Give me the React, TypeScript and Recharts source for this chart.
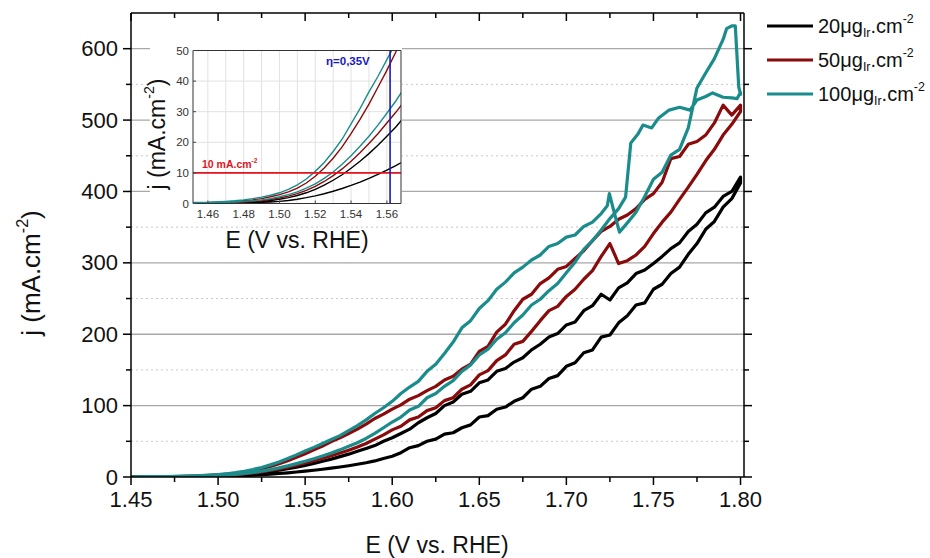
import React from 'react';
import { LineChart, Line, XAxis, YAxis, ReferenceLine, CartesianGrid } from 'recharts';

const FONT = '"Liberation Sans", Arial, Helvetica, sans-serif';

// ---- Data: potential E (V vs RHE), current density j (mA/cm2) ----
// upper (anodic) branch, increasing E
const ir20Up: [number, number][] = [
  [1.45,0.1],[1.46,0.1],[1.47,0.2],[1.475,0.3],[1.48,0.4],[1.485,0.5],[1.49,0.7],[1.495,1.0],[1.50,1.4],[1.505,1.9],[1.51,2.6],[1.515,3.5],[1.52,4.6],[1.525,6.0],[1.53,7.6],[1.535,9.4],[1.54,11.5],[1.545,13.8],[1.55,16.3],[1.555,19],[1.56,22],[1.565,25],[1.57,28.5],[1.575,32],[1.58,36],[1.585,40],[1.59,44],[1.595,50],[1.60,55],[1.605,61],[1.61,67],[1.615,76],[1.62,83],[1.625,89],[1.63,100],[1.635,105],[1.64,116],[1.645,120],[1.65,132],[1.655,136],[1.66,148],[1.665,152],[1.67,161],[1.675,167],[1.68,178],[1.685,186],[1.69,196],[1.695,201],[1.70,213],[1.705,217],[1.71,233],[1.715,240],[1.72,256],[1.725,248],[1.73,265],[1.735,272],[1.74,285],[1.745,290],[1.75,299],[1.755,309],[1.76,320],[1.765,328],[1.77,344],[1.775,354],[1.78,370],[1.785,378],[1.79,393],[1.795,400],[1.80,420],
];
// lower branch, listed with increasing E (drawn back from 1.80)
const ir20Down: [number, number][] = [
  [1.45,0],[1.46,0.1],[1.47,0.1],[1.475,0.1],[1.48,0.2],[1.485,0.3],[1.49,0.4],[1.495,0.5],[1.50,0.7],[1.505,1.0],[1.51,1.4],[1.515,1.9],[1.52,2.5],[1.525,3.2],[1.53,4.0],[1.535,4.9],[1.54,5.9],[1.545,7.0],[1.55,8.2],[1.555,9.5],[1.56,10.9],[1.565,12.4],[1.57,14],[1.575,15.8],[1.58,17.8],[1.585,20],[1.59,22.5],[1.595,26],[1.60,29],[1.605,34],[1.61,41],[1.615,44],[1.62,50],[1.625,53],[1.63,60],[1.635,62],[1.64,69],[1.645,73],[1.65,84],[1.655,86],[1.66,95],[1.665,98],[1.67,106],[1.675,111],[1.68,123],[1.685,127],[1.69,138],[1.695,142],[1.70,155],[1.705,160],[1.71,174],[1.715,178],[1.72,196],[1.725,199],[1.73,216],[1.735,226],[1.74,241],[1.745,244],[1.75,263],[1.755,270],[1.76,285],[1.765,294],[1.77,312],[1.775,327],[1.78,347],[1.785,358],[1.79,378],[1.795,390],[1.80,412],
];
const ir50Up: [number, number][] = [
  [1.45,0.2],[1.46,0.3],[1.47,0.5],[1.475,0.7],[1.48,0.9],[1.485,1.2],[1.49,1.6],[1.495,2.2],[1.50,2.9],[1.505,3.8],[1.51,5.0],[1.515,6.7],[1.52,8.9],[1.525,11.6],[1.53,14.8],[1.535,18.5],[1.54,22.8],[1.545,27.5],[1.55,32.5],[1.555,38],[1.56,43.5],[1.565,49.5],[1.57,55],[1.575,61],[1.58,67],[1.585,74],[1.59,82],[1.595,88],[1.60,95],[1.605,101],[1.61,109],[1.615,114],[1.62,121],[1.625,127],[1.63,136],[1.635,141],[1.64,151],[1.645,158],[1.65,176],[1.655,183],[1.66,203],[1.665,214],[1.67,233],[1.675,249],[1.68,256],[1.685,271],[1.69,279],[1.695,291],[1.70,295],[1.705,306],[1.71,317],[1.715,331],[1.72,344],[1.725,351],[1.73,361],[1.735,367],[1.74,376],[1.745,389],[1.75,397],[1.755,413],[1.76,446],[1.765,449],[1.77,466],[1.775,470],[1.78,479],[1.785,496],[1.79,521],[1.795,507],[1.80,521],
];
const ir50Down: [number, number][] = [
  [1.45,0.1],[1.46,0.2],[1.47,0.3],[1.475,0.4],[1.48,0.5],[1.485,0.7],[1.49,0.9],[1.495,1.3],[1.50,1.8],[1.505,2.4],[1.51,3.2],[1.515,4.3],[1.52,5.6],[1.525,7.2],[1.53,9.1],[1.535,11.3],[1.54,13.8],[1.545,16.6],[1.55,19.6],[1.555,22.8],[1.56,26.3],[1.565,29.8],[1.57,33.5],[1.575,37.5],[1.58,42],[1.585,47],[1.59,53],[1.595,59],[1.60,66],[1.605,71],[1.61,80],[1.615,84],[1.62,93],[1.625,97],[1.63,107],[1.635,111],[1.64,123],[1.645,129],[1.65,143],[1.655,149],[1.66,163],[1.665,171],[1.67,186],[1.675,190],[1.68,204],[1.685,219],[1.69,233],[1.695,239],[1.70,253],[1.705,263],[1.71,277],[1.715,289],[1.72,309],[1.725,327],[1.73,299],[1.735,303],[1.74,311],[1.745,323],[1.75,341],[1.755,357],[1.76,371],[1.765,389],[1.77,406],[1.775,424],[1.78,443],[1.785,459],[1.79,479],[1.795,494],[1.80,512],
];
const ir100Up: [number, number][] = [
  [1.45,0.3],[1.46,0.4],[1.47,0.7],[1.475,0.9],[1.48,1.2],[1.485,1.6],[1.49,2.1],[1.495,2.7],[1.50,3.5],[1.505,4.6],[1.51,6.1],[1.515,8.0],[1.52,10.5],[1.525,13.4],[1.53,17.0],[1.535,21],[1.54,26],[1.545,31],[1.55,36.5],[1.555,41.5],[1.56,47],[1.565,52.5],[1.57,58],[1.575,65],[1.58,72],[1.585,80],[1.59,89],[1.595,97],[1.60,106],[1.605,117],[1.61,126],[1.615,134],[1.62,148],[1.625,158],[1.63,173],[1.635,189],[1.64,209],[1.645,219],[1.65,236],[1.655,247],[1.66,263],[1.665,273],[1.67,286],[1.675,294],[1.68,304],[1.685,311],[1.69,323],[1.695,327],[1.70,336],[1.705,339],[1.71,351],[1.715,357],[1.72,369],[1.7235,380],[1.7247,397],[1.727,375],[1.7305,343],[1.735,356],[1.74,371],[1.745,393],[1.75,417],[1.755,427],[1.76,451],[1.765,459],[1.77,489],[1.775,545],[1.78,566],[1.785,586],[1.79,613],[1.792,628],[1.795,632],[1.797,632],[1.799,546],[1.80,536],
];
const ir100Down: [number, number][] = [
  [1.45,0.2],[1.46,0.3],[1.47,0.4],[1.475,0.5],[1.48,0.7],[1.485,0.9],[1.49,1.2],[1.495,1.6],[1.50,2.2],[1.505,2.9],[1.51,3.8],[1.515,5.0],[1.52,6.4],[1.525,8.2],[1.53,10.3],[1.535,12.8],[1.54,15.6],[1.545,18.7],[1.55,22],[1.555,25.6],[1.56,29.5],[1.565,33.5],[1.57,38],[1.575,43],[1.58,48],[1.585,54],[1.59,61],[1.595,69],[1.60,77],[1.605,84],[1.61,94],[1.615,99],[1.62,111],[1.625,117],[1.63,127],[1.635,135],[1.64,148],[1.645,157],[1.65,171],[1.655,179],[1.66,193],[1.665,202],[1.67,216],[1.675,227],[1.68,241],[1.685,249],[1.69,261],[1.695,271],[1.70,286],[1.705,301],[1.71,319],[1.715,331],[1.72,346],[1.725,362],[1.73,376],[1.734,392],[1.737,468],[1.741,480],[1.744,493],[1.749,489],[1.753,503],[1.759,514],[1.765,518],[1.771,514],[1.775,528],[1.78,533],[1.784,538],[1.79,532],[1.795,531],[1.798,530],[1.80,539],
];

const SERIES_LABELS = ['20', '50', '100'];
const SERIES_COLORS = ['#000000', '#8a0b0b', '#1b8c8c'];
const SERIES_UP = [ir20Up, ir50Up, ir100Up];
const SERIES_DOWN = [ir20Down, ir50Down, ir100Down];

const MAIN_X_TICKS = [1.45,1.475,1.5,1.525,1.55,1.575,1.6,1.625,1.65,1.675,1.7,1.725,1.75,1.775,1.8];
const MAIN_Y_TICKS = [0,50,100,150,200,250,300,350,400,450,500,550,600];
const MAIN_Y_MAJOR_GRID = [100,200,300,400,500,600];
const MAIN_Y_MINOR_GRID = [50,150,250,350,450,550];

const INSET_X_TICKS = [1.46,1.48,1.5,1.52,1.54,1.56];
const INSET_X_GRID = [1.46,1.47,1.48,1.49,1.5,1.51,1.52,1.53,1.54,1.55,1.56];
const INSET_Y_TICKS = [0,10,20,30,40,50];
const INSET_Y_GRID = [10,20,30,40];
const INSET_REF_J = 10;
const INSET_REF_E = 1.5618;

const buildLoop = (up: [number, number][], down: [number, number][]) => [
  ...up.map(([E, j]) => ({ E, j })),
  ...[...down].reverse().map(([E, j]) => ({ E, j })),
];
const LOOPS = SERIES_UP.map((u, i) => buildLoop(u, SERIES_DOWN[i]));

const isMajor = (v: number, step: number) => Math.abs(v / step - Math.round(v / step)) < 1e-6;

const BottomTick = (p: any) => {
  const { x, y, payload } = p;
  const major = isMajor(payload.value, 0.05);
  return (
    <g>
      <line x1={x} y1={y} x2={x} y2={y + (major ? 8 : 5)} stroke="#000" strokeWidth={1.5} />
      {major && (
        <text x={x} y={y + 30} textAnchor="middle" fontSize={22} fontFamily={FONT} fill="#111">
          {payload.value.toFixed(2)}
        </text>
      )}
    </g>
  );
};
const TopTick = (p: any) => {
  const { x, y, payload } = p;
  const major = isMajor(payload.value, 0.05);
  return <line x1={x} y1={y} x2={x} y2={y + (major ? 8 : 5)} stroke="#000" strokeWidth={1.5} />;
};
const LeftTick = (p: any) => {
  const { x, y, payload } = p;
  const major = isMajor(payload.value, 100);
  return (
    <g>
      <line x1={x} y1={y} x2={x - (major ? 8 : 5)} y2={y} stroke="#000" strokeWidth={1.5} />
      {major && (
        <text x={x - 13} y={y + 7.5} textAnchor="end" fontSize={22} fontFamily={FONT} fill="#111">
          {payload.value}
        </text>
      )}
    </g>
  );
};
const RightTick = (p: any) => {
  const { x, y, payload } = p;
  const major = isMajor(payload.value, 100);
  return <line x1={x} y1={y} x2={x + (major ? 8 : 5)} y2={y} stroke="#000" strokeWidth={1.5} />;
};

const InsetBottomTick = (p: any) => {
  const { x, y, payload } = p;
  return (
    <g>
      <line x1={x} y1={y} x2={x} y2={y - 3} stroke="#444" strokeWidth={1} />
      <text x={x} y={y + 14} textAnchor="middle" fontSize={11.5} fontFamily={FONT} fill="#333">
        {payload.value.toFixed(2)}
      </text>
    </g>
  );
};
const InsetLeftTick = (p: any) => {
  const { x, y, payload } = p;
  return (
    <g>
      <line x1={x} y1={y} x2={x + 3} y2={y} stroke="#444" strokeWidth={1} />
      <text x={x - 4} y={y + 4} textAnchor="end" fontSize={11.5} fontFamily={FONT} fill="#333">
        {payload.value}
      </text>
    </g>
  );
};

const Sup = ({ children }: { children: React.ReactNode }) => (
  <span style={{ fontSize: '0.62em', position: 'relative', top: '-0.75em' }}>{children}</span>
);
const Sub = ({ children }: { children: React.ReactNode }) => (
  <span style={{ fontSize: '0.62em', position: 'relative', top: '0.35em' }}>{children}</span>
);

export default function App() {
  return (
    <div style={{ position: 'absolute', left: 0, top: 0, width: 930, height: 558, background: '#fff', fontFamily: FONT, overflow: 'hidden' }}>
      {/* Main chart */}
      <div style={{ position: 'absolute', left: 0, top: 0 }}>
        <LineChart width={930} height={558} data={LOOPS[0]} margin={{ top: 8, right: 176, left: 71, bottom: 41 }}>
          {MAIN_Y_MINOR_GRID.map((v) => (
            <ReferenceLine key={'mi' + v} xAxisId="b" yAxisId="l" y={v} stroke="#c8c8c8" strokeWidth={1} strokeDasharray="2 3" />
          ))}
          {MAIN_Y_MAJOR_GRID.map((v) => (
            <ReferenceLine key={'ma' + v} xAxisId="b" yAxisId="l" y={v} stroke="#a8a8a8" strokeWidth={1.3} />
          ))}
          <XAxis xAxisId="b" type="number" dataKey="E" domain={[1.45, 1.802]} allowDataOverflow ticks={MAIN_X_TICKS} interval={0}
            height={40} tickSize={0} tickMargin={0} tickLine={false} axisLine={{ stroke: '#000', strokeWidth: 1.5 }} tick={<BottomTick />} />
          <XAxis xAxisId="t" orientation="top" type="number" dataKey="E" domain={[1.45, 1.802]} allowDataOverflow ticks={MAIN_X_TICKS} interval={0}
            height={5} tickSize={0} tickMargin={0} tickLine={false} axisLine={{ stroke: '#000', strokeWidth: 1.5 }} tick={<TopTick />} />
          <YAxis yAxisId="l" type="number" domain={[0, 650]} allowDataOverflow ticks={MAIN_Y_TICKS} interval={0}
            width={60} tickSize={0} tickMargin={0} tickLine={false} axisLine={{ stroke: '#000', strokeWidth: 1.5 }} tick={<LeftTick />} />
          <YAxis yAxisId="r" orientation="right" type="number" domain={[0, 650]} allowDataOverflow ticks={MAIN_Y_TICKS} interval={0}
            width={10} tickSize={0} tickMargin={0} tickLine={false} axisLine={{ stroke: '#000', strokeWidth: 1.5 }} tick={<RightTick />} />
          {LOOPS.map((d, i) => (
            <Line key={i} xAxisId="b" yAxisId="l" data={d} dataKey="j" name={SERIES_LABELS[i]} type="linear"
              stroke={SERIES_COLORS[i]} strokeWidth={3.2} dot={false} activeDot={false} isAnimationActive={false} strokeLinejoin="round" />
          ))}
        </LineChart>
      </div>

      {/* white patch behind inset */}
      <div style={{ position: 'absolute', left: 150, top: 40, width: 252, height: 178, background: '#fff' }} />

      {/* Inset chart */}
      <div style={{ position: 'absolute', left: 140, top: 30 }}>
        <LineChart width={270} height={230} data={LOOPS[0]} margin={{ top: 19.5, right: 8, left: 23, bottom: 36.5 }}>
          <CartesianGrid xAxisId="b" yAxisId="l" fill="#fff" stroke="#e2e2e2" verticalValues={INSET_X_GRID} horizontalValues={INSET_Y_GRID} />
          <XAxis xAxisId="b" type="number" dataKey="E" domain={[1.4517, 1.5679]} allowDataOverflow ticks={INSET_X_TICKS} interval={0}
            height={20} tickSize={0} tickMargin={0} tickLine={false} axisLine={{ stroke: '#333', strokeWidth: 1 }} tick={<InsetBottomTick />} />
          <XAxis xAxisId="t" orientation="top" type="number" dataKey="E" domain={[1.4517, 1.5679]} allowDataOverflow
            height={1} tick={false} tickLine={false} axisLine={{ stroke: '#333', strokeWidth: 1 }} />
          <YAxis yAxisId="l" type="number" domain={[0, 50]} allowDataOverflow ticks={INSET_Y_TICKS} interval={0}
            width={30} tickSize={0} tickMargin={0} tickLine={false} axisLine={{ stroke: '#333', strokeWidth: 1 }} tick={<InsetLeftTick />} />
          <YAxis yAxisId="r" orientation="right" type="number" domain={[0, 50]} allowDataOverflow
            width={1} tick={false} tickLine={false} axisLine={{ stroke: '#333', strokeWidth: 1 }} />
          {LOOPS.map((d, i) => (
            <Line key={i} xAxisId="b" yAxisId="l" data={d} dataKey="j" type="linear"
              stroke={SERIES_COLORS[i]} strokeWidth={1.4} dot={false} activeDot={false} isAnimationActive={false} />
          ))}
          <ReferenceLine xAxisId="b" yAxisId="l" y={INSET_REF_J} stroke="#e5141c" strokeWidth={1.6} />
          <ReferenceLine xAxisId="b" yAxisId="l" x={INSET_REF_E} stroke="#1a1ab8" strokeWidth={1.6} />
        </LineChart>
      </div>

      {/* Inset annotations */}
      <div style={{ position: 'absolute', left: 202, top: 158, fontSize: 10.5, fontWeight: 'bold', color: '#e5141c', whiteSpace: 'nowrap' }}>
        10 mA.cm<Sup>-2</Sup>
      </div>
      <div style={{ position: 'absolute', left: 326, top: 55, fontSize: 11.5, fontWeight: 'bold', color: '#1a1ab8', whiteSpace: 'nowrap' }}>
        η=0,35V
      </div>
      {/* Inset titles */}
      <div style={{ position: 'absolute', left: 297, top: 240, transform: 'translate(-50%,-50%)', fontSize: 23, color: '#111', whiteSpace: 'nowrap' }}>
        E (V vs. RHE)
      </div>
      <div style={{ position: 'absolute', left: 157, top: 134, transform: 'translate(-50%,-50%) rotate(-90deg)', fontSize: 23, color: '#111', whiteSpace: 'nowrap' }}>
        j (mA.cm<Sup>-2</Sup>)
      </div>

      {/* Main titles */}
      <div style={{ position: 'absolute', left: 437, top: 545, transform: 'translate(-50%,-50%)', fontSize: 23, color: '#111', whiteSpace: 'nowrap' }}>
        E (V vs. RHE)
      </div>
      <div style={{ position: 'absolute', left: 31, top: 273, transform: 'translate(-50%,-50%) rotate(-90deg)', fontSize: 26, color: '#111', whiteSpace: 'nowrap' }}>
        j (mA.cm<Sup>-2</Sup>)
      </div>

      {/* Legend */}
      <div style={{ position: 'absolute', left: 766, top: 9 }}>
        {SERIES_LABELS.map((lab, i) => (
          <div key={lab} style={{ display: 'flex', alignItems: 'center', height: 34, whiteSpace: 'nowrap' }}>
            <svg width={48} height={10} style={{ display: 'block' }}>
              <line x1={1} y1={5} x2={47} y2={5} stroke={SERIES_COLORS[i]} strokeWidth={3.2} />
            </svg>
            <span style={{ fontSize: 20, color: '#111', marginLeft: 4 }}>
              {lab}μg<Sub>Ir</Sub>.cm<Sup>-2</Sup>
            </span>
          </div>
        ))}
      </div>
    </div>
  );
}
